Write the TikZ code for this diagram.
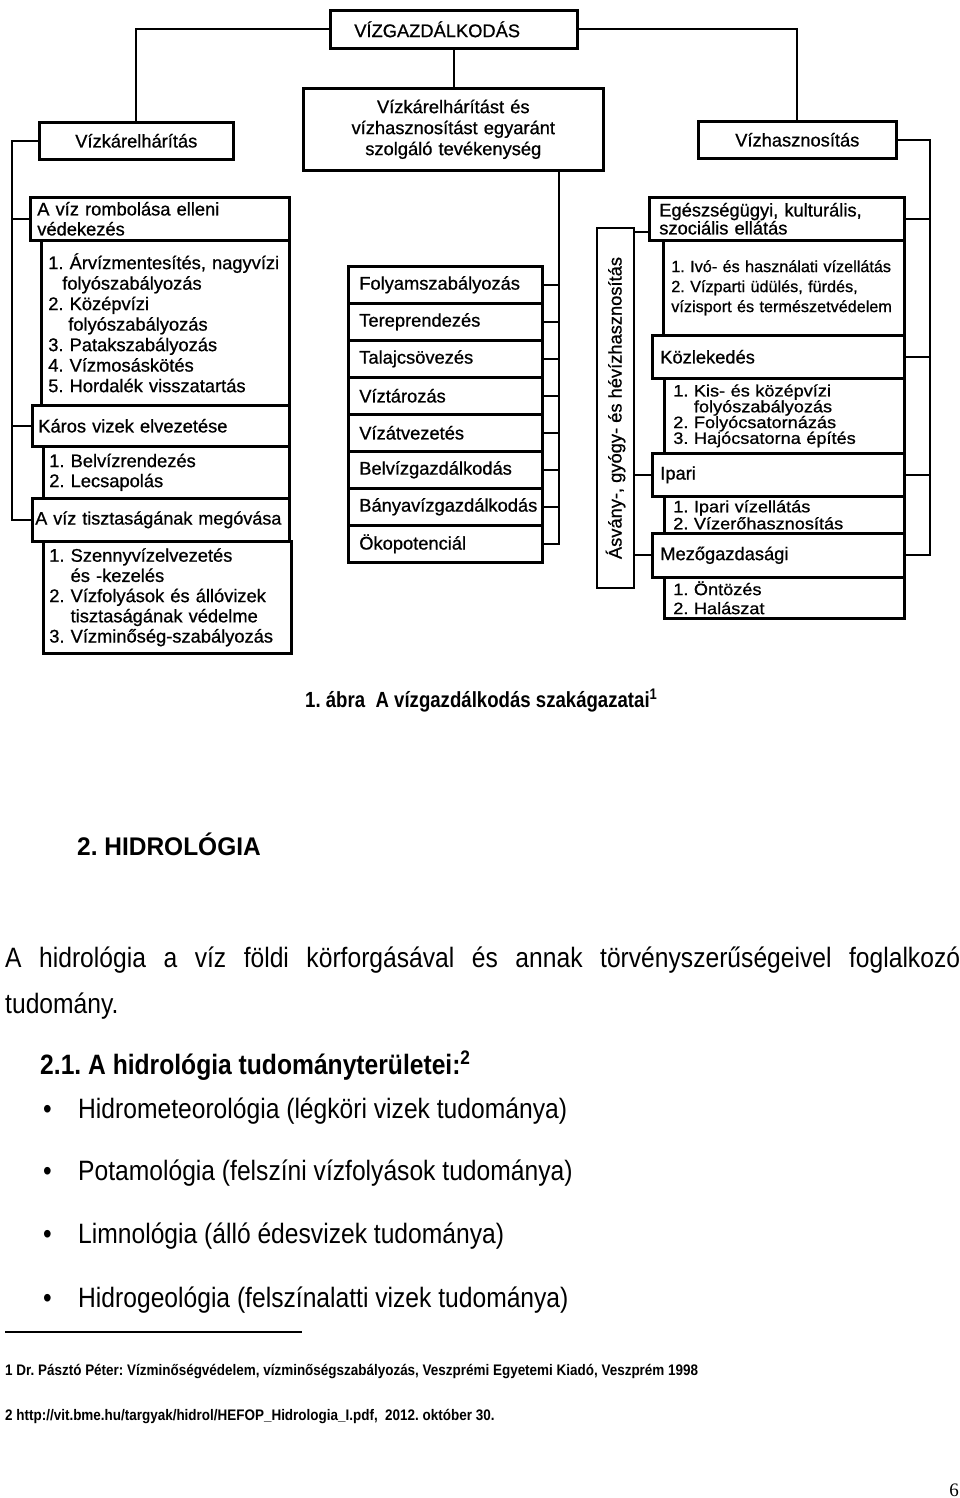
\documentclass[tikz,border=0pt]{standalone}
\usepackage{fontspec}
\setmainfont{Liberation Sans}
\newfontfamily\diagFont[FakeBold=0.8]{Liberation Sans}
\newfontfamily\wideSans[FakeStretch=1.1, FakeBold=0.8]{Liberation Sans}
\newfontfamily\bodyFont[FakeStretch=0.88]{Liberation Sans}
\newfontfamily\headFont[FakeStretch=0.96]{Liberation Sans}
\newfontfamily\capFont[FakeStretch=0.85]{Liberation Sans}
\newfontfamily\pageFont{Liberation Serif}
\usetikzlibrary{positioning, calc}
\hyphenpenalty=10000
\exhyphenpenalty=10000
\newcommand{\fsz}[2]{\fontsize{#1}{#2}\selectfont}
\colorlet{lineColor}{black}
\tikzstyle{box}=[draw=lineColor, line width=2.6pt, anchor=north west, inner ysep=0pt, align=left, font=\diagFont\fsz{18.3}{20.5}]
\tikzstyle{cbox}=[box, align=center]
\tikzstyle{vbox}=[draw=lineColor, line width=2.6pt, rotate=90, inner sep=0pt, font=\diagFont\fsz{18.3}{20.5}]
\tikzstyle{link}=[line width=1.7pt, draw=lineColor]
\tikzstyle{txt}=[anchor=base west, inner sep=0pt]

\begin{document}
\frenchspacing
\begin{tikzpicture}[x=1pt, y=-1pt]
  \useasboundingbox (0,0) rectangle (960,1498);
  % top level
  \node(vg) at (329,9) [box, inner xsep=24pt, text width=199pt, minimum height=38pt] {VÍZGAZDÁLKODÁS};
  \node(vk) at (38,121) [cbox, inner xsep=6pt, text width=182pt, minimum height=37pt] {Vízkárelhárítás};
  \node(mid) at (302,87) [cbox, inner xsep=6pt, text width=288pt, minimum height=82pt, font=\diagFont\fsz{18.3}{21}] {Vízkárelhárítást és\\vízhasznosítást egyaránt\\szolgáló tevékenység};
  \node(vh) at (697,120) [cbox, inner xsep=6pt, text width=186pt, minimum height=37pt] {Vízhasznosítás};
  % left column
  \node(h1) at (29,196) [box, inner xsep=7pt, text width=245pt, minimum height=43pt, font=\diagFont\fsz{18.3}{20}] {A víz rombolása elleni\\védekezés};
  \node(s1) at (40,239) [box, inner xsep=7pt, text width=234pt, minimum height=165pt] {1. Árvízmentesítés, nagyvízi\\\hspace*{14pt}folyószabályozás\\2. Középvízi\\\hspace*{20pt}folyószabályozás\\3. Patakszabályozás\\4. Vízmosáskötés\\5. Hordalék visszatartás};
  \node(h2) at (31,404) [box, inner xsep=6pt, text width=245pt, minimum height=41pt] {Káros vizek elvezetése};
  \node(s2) at (42,445) [box, inner xsep=6pt, text width=234pt, minimum height=52pt, font=\diagFont\fsz{18.3}{20}] {1. Belvízrendezés\\2. Lecsapolás};
  \node(h3) at (31,497) [box, inner xsep=3pt, text width=251pt, minimum height=43pt, font=\diagFont\fsz{18}{20}] {A víz tisztaságának megóvása};
  \node(s3) at (42,540) [box, inner xsep=6pt, text width=236pt, minimum height=112pt, font=\diagFont\fsz{18.3}{20.2}] {1. Szennyvízelvezetés\\\phantom{1. }és -kezelés\\2. Vízfolyások és állóvizek\\\phantom{2. }tisztaságának védelme\\3. Vízminőség-szabályozás};
  % middle column
  \foreach \n/\t [count=\i from 0] in {m1/Folyamszabályozás, m2/Tereprendezés, m3/Talajcsövezés, m4/Víztározás, m5/Vízátvezetés, m6/Belvízgazdálkodás, m7/Bányavízgazdálkodás, m8/Ökopotenciál}
    \node(\n) at (347,265+37*\i) [box, inner xsep=11pt, text width=172pt, minimum height=37pt] {\t};
  \node(av) at (615.5,408) [vbox, minimum width=360pt, minimum height=37pt] {Ásvány-, gyógy- és hévízhasznosítás};
  % right column
  \node(r1) at (648,196) [box, inner xsep=10pt, text width=235pt, minimum height=43pt, font=\diagFont\fsz{18.3}{18}] {Egészségügyi, kulturális,\\szociális ellátás};
  \node(t1) at (662,239) [box, inner xsep=8pt, text width=225pt, minimum height=95pt, font=\diagFont\fsz{16.2}{20}] {1. Ivó- és használati vízellátás\\2. Vízparti üdülés, fürdés,\\vízisport és természetvédelem};
  \node(r2) at (651,334) [box, inner xsep=8pt, text width=236pt, minimum height=43pt] {Közlekedés};
  \node(t2) at (663,377) [box, inner xsep=9pt, text width=222pt, minimum height=75pt, font=\wideSans\fsz{16.5}{15.8}] {1. Kis- és középvízi\\\phantom{1. }folyószabályozás\\2. Folyócsatornázás\\3. Hajócsatorna építés};
  \node(r3) at (651,452) [box, inner xsep=8pt, text width=236pt, minimum height=43pt] {Ipari};
  \node(t3) at (663,495) [box, inner xsep=9pt, text width=222pt, minimum height=37pt, font=\wideSans\fsz{16.5}{17}] {1. Ipari vízellátás\\2. Vízerőhasznosítás};
  \node(r4) at (651,532) [box, inner xsep=8pt, text width=236pt, minimum height=44pt] {Mezőgazdasági};
  \node(t4) at (663,576) [box, inner xsep=9pt, text width=222pt, minimum height=41pt, font=\wideSans\fsz{16.5}{19}] {1. Öntözés\\2. Halászat};
  % connectors
  \coordinate(lspine) at (12,0);
  \coordinate(mspine) at (559,0);
  \coordinate(rspine) at (930,0);
  \draw[link] (vg.west) -| (vk.north);
  \draw[link] (vg.south) -- (vg.south |- mid.north);
  \draw[link] (vg.east) -| (vh.north);
  \draw[link] (vk.west) -| (lspine |- h3.west) -- (h3.west);
  \draw[link] (h1.west) -- (h1.west -| lspine);
  \draw[link] (h2.west) -- (h2.west -| lspine);
  \draw[link] (mid.south -| mspine) -- (mspine |- m8.east) -- (m8.east);
  \foreach \n in {m1,m2,m3,m4,m5,m6,m7}
    \draw[link] (\n.east) -- (\n.east -| mspine);
  \draw[link] (vh.east) -| (rspine |- r4.east) -- (r4.east);
  \foreach \n in {r1,r2,r3}
    \draw[link] (\n.east) -- (\n.east -| rspine);
  \path ($(av.south east)+(0,5)$) coordinate (avtop);
  \draw[link] (avtop) -- (avtop -| r1.west);
  \draw[link] (r3.west) -- (r3.west -| av.south);
  \draw[link] (r4.west) -- (r4.west -| av.south);
  % text below the figure
  \node(cap) at (305,707) [txt, font=\capFont\bfseries\fsz{21.9}{26}] {1. ábra\ \ A vízgazdálkodás szakágazatai\textsuperscript{1}};
  \node(sec) at (77,855) [txt, font=\headFont\bfseries\fsz{25.5}{30}] {2. HIDROLÓGIA};
  \node(par) at (5,967) [anchor=base west, inner sep=0pt, text width=955pt, align=justify, font=\bodyFont\fsz{28}{46}] {A hidrológia a víz földi körforgásával és annak törvényszerűségeivel foglalkozó\linebreak tudomány.};
  \node(sub) at (40,1074) [txt, font=\bodyFont\bfseries\fsz{28}{34}] {2.1. A hidrológia tudományterületei:\textsuperscript{2}};
  \foreach \y/\t [count=\i] in {1118/Hidrometeorológia (légköri vizek tudománya), 1180/Potamológia (felszíni vízfolyások tudománya), 1243/Limnológia (álló édesvizek tudománya), 1307/Hidrogeológia (felszínalatti vizek tudománya)}
    \node(b\i) at (43,\y) [txt, font=\bodyFont\fsz{28}{34}] {\makebox[35pt][l]{\textbullet}\t};
  \draw[line width=1.3pt] (5,1332) -- (302,1332);
  \node(fn1) at (5,1375) [txt, font=\bodyFont\bfseries\fsz{15.3}{18}] {1 Dr. Pásztó Péter: Vízminőségvédelem, vízminőségszabályozás, Veszprémi Egyetemi Kiadó, Veszprém 1998};
  \node(fn2) at (5,1420) [txt, font=\bodyFont\bfseries\fsz{15.3}{18}] {2 http://vit.bme.hu/targyak/hidrol/HEFOP\_Hidrologia\_I.pdf,\ \ 2012. október 30.};
  \node(pg) at (959,1496) [anchor=base east, inner sep=0pt, font=\pageFont\fsz{19}{22}] {6};
\end{tikzpicture}
\end{document}
